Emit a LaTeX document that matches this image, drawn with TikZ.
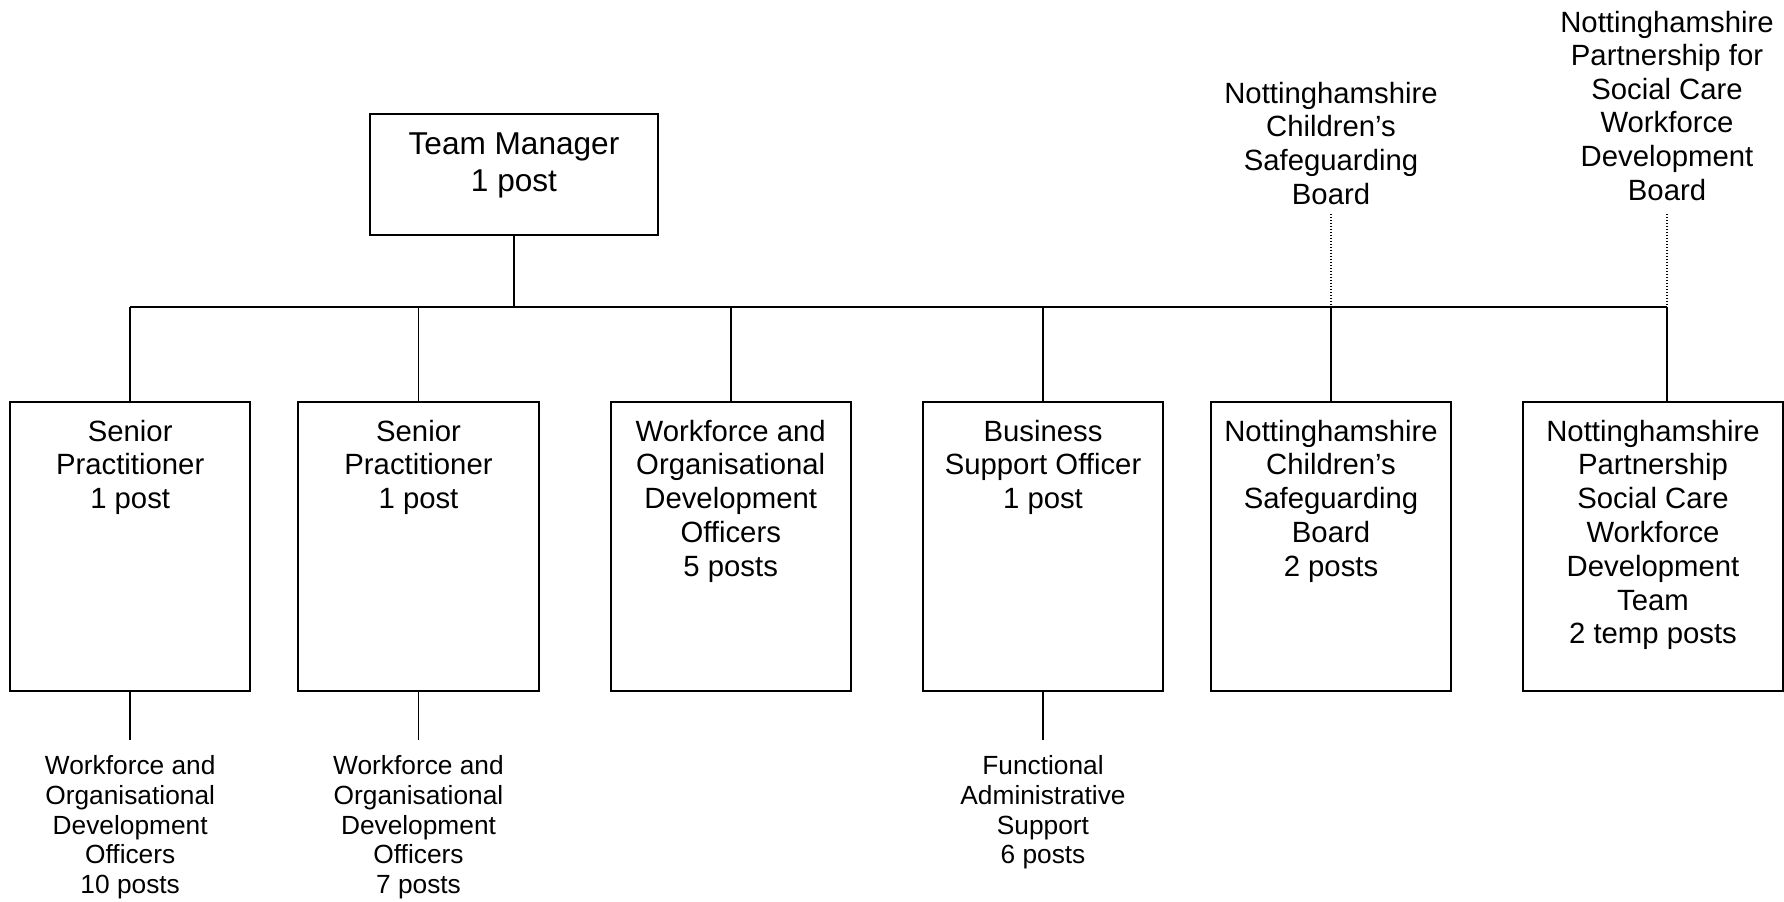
\documentclass[tikz,border=0pt]{standalone}
\usepackage{fontspec}
\setmainfont{Liberation Sans}
\begin{document}
\begin{tikzpicture}[x=0.5pt,y=-0.5pt,
  box/.style={draw, line width=1pt, inner sep=0pt, outer sep=0pt},
  unit/.style={box, minimum width=120.2pt, minimum height=144.2pt},
  boxtxt/.style={anchor=north, inner sep=0pt, align=center, font=\fontsize{14.65}{16.9}\selectfont, yshift=-8.55pt},
  tmtxt/.style={anchor=north, inner sep=0pt, align=center, font=\fontsize{15.8}{18.5}\selectfont, yshift=-8.85pt},
  subtxt/.style={anchor=north, inner sep=0pt, align=center, font=\fontsize{13.15}{14.85}\selectfont},
  toptxt/.style={anchor=north, inner sep=0pt, align=center, font=\fontsize{14.65}{16.8}\selectfont},
  conn/.style={line width=0.8pt},
  dots/.style={line width=0.6pt, dash pattern=on 0.6pt off 0.9pt}]
\useasboundingbox (0,0) rectangle (1784,901);

% top manager
\node[box, minimum width=144pt, minimum height=60.35pt,
  label={[tmtxt]north:{Team Manager\\1 post}}] (tm) at (514,174.65) {};

% junctions on the horizontal line
\coordinate (j0) at (514,306.7);
\coordinate (j1) at (130.2,306.7);
\coordinate (j2) at (418.5,306.7);
\coordinate (j3) at (730.7,306.7);
\coordinate (j4) at (1043,306.7);
\coordinate (j5) at (1331,306.7);
\coordinate (j6) at (1667,306.7);

% boxes
\node[unit, label={[boxtxt]north:{Senior\\Practitioner\\1 post}}] (b1) at (130.2,546.5) {};
\node[unit, label={[boxtxt]north:{Senior\\Practitioner\\1 post}}] (b2) at (418.5,546.5) {};
\node[unit, label={[boxtxt]north:{Workforce and\\Organisational\\Development\\Officers\\5 posts}}] (b3) at (730.7,546.5) {};
\node[unit, label={[boxtxt]north:{Business\\Support Officer\\1 post}}] (b4) at (1043,546.5) {};
\node[unit, label={[boxtxt]north:{Nottinghamshire\\Children’s\\Safeguarding\\Board\\2 posts}}] (b5) at (1331,546.5) {};
\node[unit, minimum width=130pt, label={[boxtxt]north:{Nottinghamshire\\Partnership\\Social Care\\Workforce\\Development\\Team\\2 temp posts}}] (b6) at (1653,546.5) {};

% sub texts
\node[subtxt] (t1) at (130.2,755.2) {Workforce and\\Organisational\\Development\\Officers\\10 posts};
\node[subtxt] (t2) at (418.5,755.2) {Workforce and\\Organisational\\Development\\Officers\\7 posts};
\node[subtxt] (t4) at (1043,755.2) {Functional\\Administrative\\Support\\6 posts};

% top labels
\node[toptxt] (lab1) at (1331,81.7) {Nottinghamshire\\Children’s\\Safeguarding\\Board};
\node[toptxt] (lab2) at (1667,10.4) {Nottinghamshire\\Partnership for\\Social Care\\Workforce\\Development\\Board};

% connectors
\draw[conn] (tm.south) -- (j0);
\draw[conn] (j1) -- (j6);
\draw[conn] (j1) -- (j1 |- b1.north);
\draw[conn] (j2) -- (j2 |- b2.north);
\draw[conn] (j3) -- (j3 |- b3.north);
\draw[conn] (j4) -- (j4 |- b4.north);
\draw[conn] (j5) -- (j5 |- b5.north);
\draw[conn] (j6) -- (j6 |- b6.north);
\draw[conn, shorten >=7.6pt] (b1.south) -- (t1.north);
\draw[conn, shorten >=7.6pt] (b2.south) -- (t2.north);
\draw[conn, shorten >=7.6pt] (b4.south) -- (t4.north);
\draw[dots, shorten <=4.5pt] (lab1.south) -- (j5);
\draw[dots, shorten <=6.6pt] (lab2.south) -- (j6);
\end{tikzpicture}
\end{document}
